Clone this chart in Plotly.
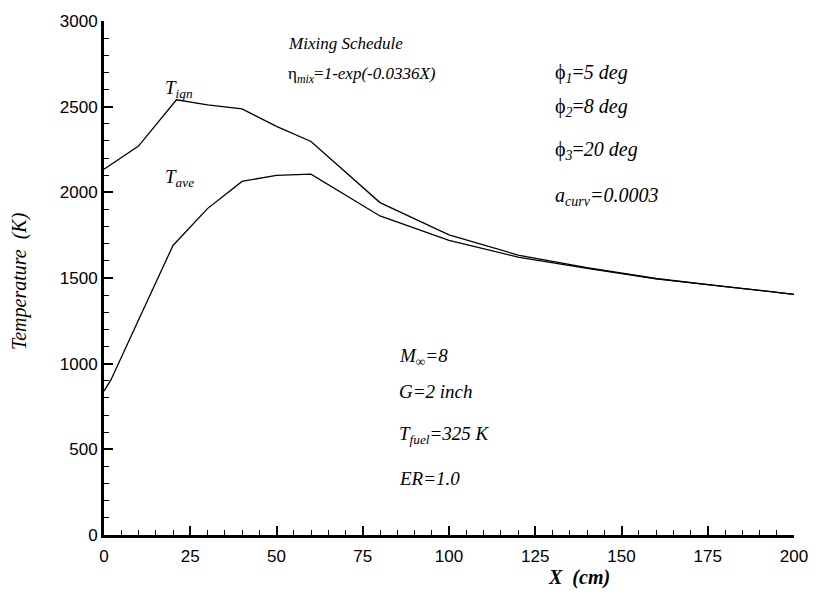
import plotly.graph_objects as go

# Data
x_ign = [0, 10, 21, 30, 40, 50, 60, 80, 100, 120, 140, 160, 180, 200]
t_ign = [2135, 2270, 2540, 2510, 2487, 2385, 2297, 1940, 1752, 1634, 1560, 1497, 1450, 1405]

x_ave = [0, 2, 10, 20, 30, 40, 50, 60, 80, 100, 120, 140, 160, 180, 200]
t_ave = [840, 905, 1255, 1690, 1905, 2064, 2099, 2106, 1862, 1720, 1622, 1556, 1495, 1450, 1405]

x_ticks = [0, 25, 50, 75, 100, 125, 150, 175, 200]
y_ticks = [0, 500, 1000, 1500, 2000, 2500, 3000]

SERIF = "Liberation Serif"
SANS = "Liberation Sans"

fig = go.Figure()
fig.add_trace(go.Scatter(x=x_ign, y=t_ign, mode="lines",
                         line=dict(color="black", width=1.3), showlegend=False))
fig.add_trace(go.Scatter(x=x_ave, y=t_ave, mode="lines",
                         line=dict(color="black", width=1.3), showlegend=False))

def ann(text, x, y, size=17, xanchor="left", xref="x", yref="y", angle=0):
    fig.add_annotation(text=text, x=x, y=y, xref=xref, yref=yref, showarrow=False,
                       xanchor=xanchor, yanchor="middle", textangle=angle,
                       font=dict(family=SERIF, size=size, color="black"))

# pixel -> data helpers for label placement (plot area 104..803 x, 19..535 y)
def px(p):
    return (p - 104) / (699 / 200)

def py(p):
    return 3000 - (p - 19) / (516 / 3000)

ann("<i>Mixing Schedule</i>", px(288), py(42), size=17)
ann("η<sub><i>mix</i></sub>=<i>1-exp(-0.0336X)</i>", px(288), py(73), size=17)
ann("ϕ<sub><i>1</i></sub>=<i>5 deg</i>", px(559), py(72), size=20)
ann("ϕ<sub><i>2</i></sub>=<i>8 deg</i>", px(559), py(106), size=20)
ann("ϕ<sub><i>3</i></sub>=<i>20 deg</i>", px(559), py(149), size=20)
ann("<i>a<sub>curv</sub>=0.0003</i>", px(559), py(195), size=20)
ann("<i>T<sub>ign</sub></i>", px(164), py(87), size=19)
ann("<i>T<sub>ave</sub></i>", px(164), py(177), size=19)
ann("<i>M<sub>∞</sub>=8</i>", px(401), py(356), size=19)
ann("<i>G=2 inch</i>", px(401), py(391), size=19)
ann("<i>T<sub>fuel</sub>=325 K</i>", px(401), py(435), size=19)
ann("<i>ER=1.0</i>", px(401), py(478), size=19)

# axis titles
fig.add_annotation(text="<b><i>X  (cm)</i></b>", x=(585 - 104) / 699, y=(535 - 578) / 516,
                   xref="paper", yref="paper", showarrow=False, xanchor="center",
                   yanchor="middle", font=dict(family=SERIF, size=20, color="black"))
fig.add_annotation(text="<i>Temperature  (K)</i>", x=(19 - 104) / 699, y=(535 - 280) / 516,
                   xref="paper", yref="paper", showarrow=False, xanchor="center",
                   yanchor="middle", textangle=-90,
                   font=dict(family=SERIF, size=20, color="black"))

fig.update_xaxes(range=[0, 200], tickvals=x_ticks, ticktext=[str(v) for v in x_ticks],
                 ticks="inside", ticklen=9, tickwidth=1.5, tickcolor="black",
                 minor=dict(dtick=5, tick0=0, ticks="inside", ticklen=5, tickwidth=1.2,
                            tickcolor="black", showgrid=False),
                 showline=True, linewidth=3, linecolor="black", showgrid=False,
                 zeroline=False, mirror=False, ticklabelstandoff=4,
                 tickfont=dict(family=SANS, size=17, color="black"))
fig.update_yaxes(range=[0, 3000], tickvals=y_ticks, ticktext=[str(v) for v in y_ticks],
                 ticks="inside", ticklen=9, tickwidth=1.5, tickcolor="black",
                 minor=dict(dtick=100, tick0=0, ticks="inside", ticklen=5, tickwidth=1.2,
                            tickcolor="black", showgrid=False),
                 showline=True, linewidth=3, linecolor="black", showgrid=False,
                 zeroline=False, mirror=False,
                 tickfont=dict(family=SANS, size=17, color="black"))

fig.update_layout(width=820, height=594, margin=dict(l=104, r=17, t=19, b=59),
                  paper_bgcolor="white", plot_bgcolor="white", showlegend=False)

fig.write_html("out.html")
